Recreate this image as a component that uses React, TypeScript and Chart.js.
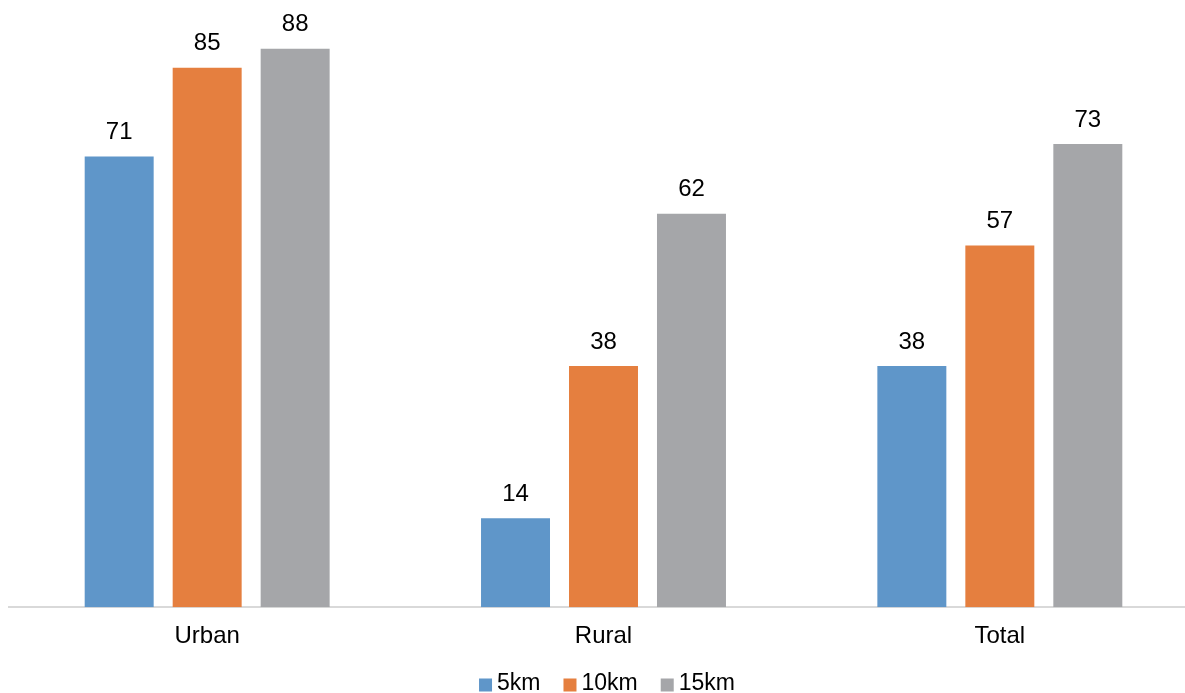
import React, { useEffect, useRef } from "react";
import { Chart, registerables } from "chart.js";

Chart.register(...registerables);

const categories = ["Urban", "Rural", "Total"];
const seriesLabels = ["5km", "10km", "15km"];
const values5km = [71, 14, 38];
const values10km = [85, 38, 57];
const values15km = [88, 62, 73];
const seriesColors = ["#5F96C9", "#E57F3F", "#A5A6A9"];

const FONT = "'Liberation Sans', Arial, sans-serif";
const FONT_SIZE = 24;

// Writes each bar's value just above it.
const valueLabels = {
  id: "valueLabels",
  afterDatasetsDraw(chart: any) {
    const ctx = chart.ctx;
    ctx.save();
    ctx.font = `${FONT_SIZE}px ${FONT}`;
    ctx.fillStyle = "#000";
    ctx.textAlign = "center";
    ctx.textBaseline = "middle";
    chart.data.datasets.forEach((ds: any, i: number) => {
      const meta = chart.getDatasetMeta(i);
      meta.data.forEach((bar: any, j: number) => {
        ctx.fillText(String(ds.data[j]), bar.x, bar.y - 24);
      });
    });
    ctx.restore();
  },
};

// Legend row with square swatches along the bottom edge.
const bottomLegend = {
  id: "bottomLegend",
  afterDraw(chart: any) {
    const ctx = chart.ctx;
    const box = 13;
    const gap = 5;
    const spacing = 23;
    const cy = 684;
    ctx.save();
    ctx.font = `23px ${FONT}`;
    ctx.textBaseline = "middle";
    ctx.textAlign = "left";
    const items = chart.data.datasets.map((ds: any) => ({
      label: ds.label,
      color: ds.backgroundColor,
      w: ctx.measureText(ds.label).width,
    }));
    const total =
      items.reduce((s: number, it: any) => s + box + gap + it.w, 0) +
      spacing * (items.length - 1);
    let x = 607 - total / 2;
    items.forEach((it: any) => {
      ctx.fillStyle = it.color;
      ctx.fillRect(x, cy - box / 2 + 1, box, box);
      x += box + gap;
      ctx.fillStyle = "#000";
      ctx.fillText(it.label, x, cy);
      x += it.w + spacing;
    });
    ctx.restore();
  },
};

export default function App() {
  const canvasRef = useRef<HTMLCanvasElement>(null);

  useEffect(() => {
    if (!canvasRef.current) return;
    const seriesValues = [values5km, values10km, values15km];
    const chart = new Chart(canvasRef.current, {
      type: "bar",
      data: {
        labels: categories,
        datasets: seriesLabels.map((label, i) => ({
          label,
          data: seriesValues[i],
          backgroundColor: seriesColors[i],
          borderWidth: 0,
          categoryPercentage: 0.666,
          barPercentage: 0.784,
        })),
      },
      options: {
        animation: false,
        responsive: true,
        maintainAspectRatio: false,
        layout: { padding: { left: 9, right: 2, top: 36, bottom: 27 } },
        plugins: {
          legend: { display: false },
          tooltip: { enabled: false },
        },
        scales: {
          x: {
            grid: { display: false, drawTicks: false },
            border: { display: true, color: "#D9D9D9", width: 2 },
            ticks: {
              padding: 15,
              color: "#000",
              font: { family: FONT, size: FONT_SIZE },
            },
          },
          y: {
            display: false,
            min: 0,
            max: 90,
          },
        },
      },
      plugins: [valueLabels, bottomLegend],
    });
    return () => chart.destroy();
  }, []);

  return (
    <div
      style={{
        position: "fixed",
        left: 0,
        top: 0,
        width: 1200,
        height: 693,
        background: "#fff",
      }}
    >
      <canvas ref={canvasRef} />
    </div>
  );
}
